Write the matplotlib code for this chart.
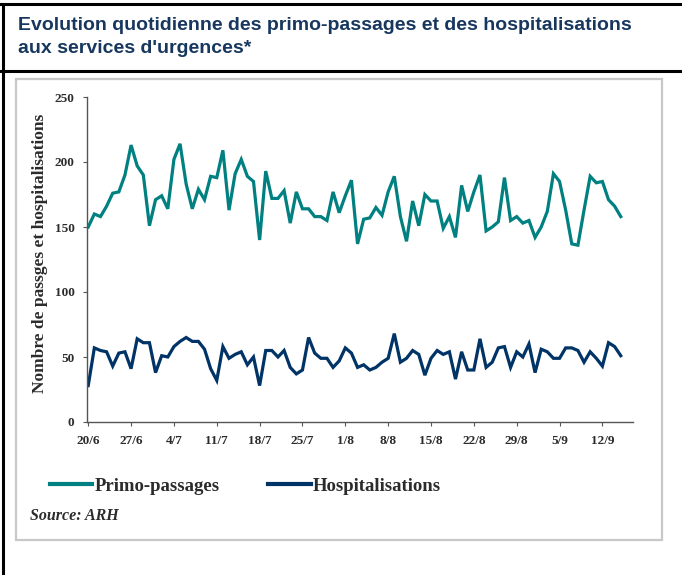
import matplotlib
matplotlib.use("Agg")
import matplotlib.pyplot as plt
from matplotlib.lines import Line2D
from matplotlib.patches import Rectangle

# ---- data (daily, 20/6 .. 15/9) ----
primo_passages = [150, 160, 158, 166, 176, 177, 190, 213, 197, 190,
                  151, 171, 174, 164, 202, 214, 183, 164, 179, 171,
                  189, 188, 209, 163, 191, 202, 189, 185, 140, 193,
                  172, 172, 178, 153, 177, 164, 164, 158, 158, 155,
                  177, 161, 174, 186, 137, 156, 157, 165, 159, 177,
                  189, 158, 139, 170, 151, 175, 170, 170, 149, 158,
                  142, 182, 162, 177, 190, 147, 150, 154, 188, 155,
                  158, 153, 155, 142, 150, 162, 191, 185, 163, 137,
                  136, 163, 189, 184, 185, 171, 166, 158]
hospitalisations = [28, 57, 55, 54, 43, 53, 54, 41, 64, 61,
                    61, 38, 51, 50, 58, 62, 65, 62, 62, 56,
                    41, 32, 58, 49, 52, 54, 44, 50, 28, 55,
                    55, 50, 55, 42, 37, 40, 65, 53, 49, 49,
                    42, 47, 57, 53, 42, 44, 40, 42, 46, 49,
                    68, 46, 49, 55, 52, 36, 49, 55, 52, 54,
                    33, 54, 40, 40, 64, 42, 46, 57, 58, 42,
                    54, 50, 60, 38, 56, 54, 49, 49, 57, 57,
                    55, 46, 54, 49, 43, 61, 58, 51]
tick_positions = [0, 7, 14, 21, 28, 35, 42, 49, 56, 63, 70, 77, 84]
tick_labels = ["20/6", "27/6", "4/7", "11/7", "18/7", "25/7", "1/8",
               "8/8", "15/8", "22/8", "29/8", "5/9", "12/9"]
y_ticks = [0, 50, 100, 150, 200, 250]

TEAL = "#008080"
NAVY = "#003366"
TITLE_COLOR = "#17375E"
TEXT = "#2b2b2b"

W, H = 682, 575
fig = plt.figure(figsize=(W / 100, H / 100), dpi=100)

def fx(px):
    return px / W

def fy(py):
    return 1 - py / H

# ---- frames ----
fig.add_artist(Line2D([0, 1], [fy(4), fy(4)], transform=fig.transFigure,
                      color="black", lw=2.2))
fig.add_artist(Line2D([0, 1], [fy(71), fy(71)], transform=fig.transFigure,
                      color="black", lw=2.2))
fig.add_artist(Line2D([fx(2.5), fx(2.5)], [fy(4), 0], transform=fig.transFigure,
                      color="black", lw=2.2))
fig.add_artist(Rectangle((fx(16), fy(540)), fx(662) - fx(16), fy(79) - fy(540),
                         transform=fig.transFigure, fill=False,
                         edgecolor="#c8c8c8", lw=1.6))

# ---- title ----
fig.text(fx(18), fy(30), "Evolution quotidienne des primo-passages et des hospitalisations",
         family="Liberation Sans", weight="bold", fontsize=14.0, color=TITLE_COLOR,
         ha="left", va="baseline")
fig.text(fx(18), fy(53), "aux services d'urgences*",
         family="Liberation Sans", weight="bold", fontsize=14.0, color=TITLE_COLOR,
         ha="left", va="baseline")

# ---- axes ----
ax = fig.add_axes([fx(87), fy(422), fx(633) - fx(87), fy(97) - fy(422)])
days = list(range(len(primo_passages)))
ax.plot(days, primo_passages, color=TEAL, lw=2.3, label="Primo-passages",
        solid_joinstyle="miter")
ax.plot(days, hospitalisations, color=NAVY, lw=2.3, label="Hospitalisations",
        solid_joinstyle="miter")

ax.set_xlim(-0.2, 89)
ax.set_ylim(0, 250)
ax.set_xticks(tick_positions)
ax.set_xticklabels(tick_labels)
ax.set_yticks(y_ticks)
for s in ("top", "right"):
    ax.spines[s].set_visible(False)
for s in ("left", "bottom"):
    ax.spines[s].set_color("#555555")
    ax.spines[s].set_linewidth(1.0)
ax.tick_params(axis="both", direction="out", length=3, width=0.8, color="#555555",
               pad=6)
for lab in ax.get_xticklabels() + ax.get_yticklabels():
    lab.set_family("Liberation Serif")
    lab.set_weight("bold")
    lab.set_fontsize(9.5)
    lab.set_color(TEXT)

fig.text(fx(40), fy(253), "Nombre de passges et hospitalisations",
         family="Liberation Serif", weight="bold", fontsize=12.5, color=TEXT,
         rotation=90, ha="center", va="center")

# ---- legend ----
leg = fig.legend(handles=ax.get_lines(), loc="center left",
                 bbox_to_anchor=(fx(50), fy(486)), frameon=False, ncol=2,
                 handlelength=2.25, handletextpad=0.12, columnspacing=2.6,
                 borderpad=0, borderaxespad=0,
                 prop={"family": "Liberation Serif", "weight": "bold", "size": 13.5})
for t in leg.get_texts():
    t.set_color(TEXT)
for l in leg.get_lines():
    l.set_linewidth(3)

fig.text(fx(30), fy(516), "Source: ARH", family="Liberation Serif",
         weight="bold", style="italic", fontsize=11.5, color=TEXT,
         ha="left", va="center")

fig.savefig("out.png", dpi=100)
